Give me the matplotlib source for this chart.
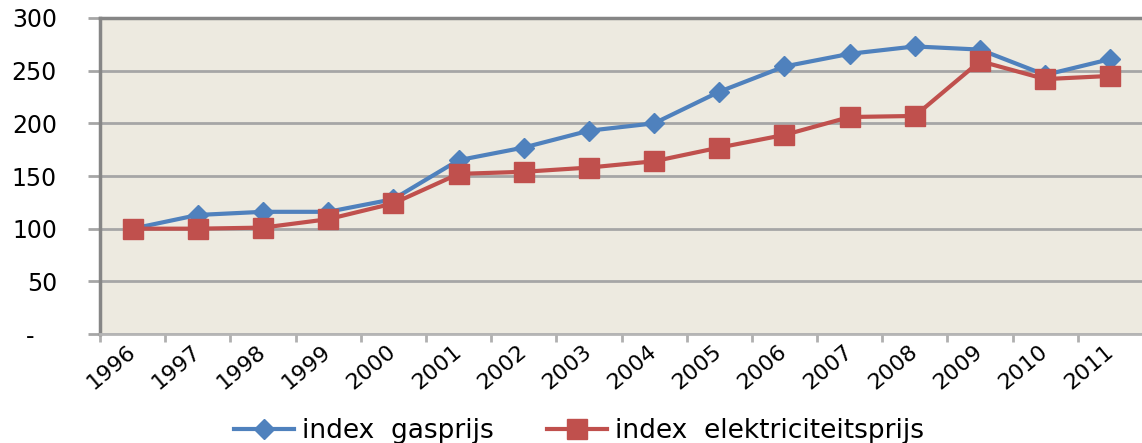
import matplotlib
matplotlib.use("Agg")
import matplotlib.pyplot as plt
import numpy as np

# data (index, 1996 = 100)
years = ['1996', '1997', '1998', '1999', '2000', '2001', '2002', '2003',
         '2004', '2005', '2006', '2007', '2008', '2009', '2010', '2011']
gas = [100, 113, 116, 116, 128, 165, 177, 193, 200, 230, 254, 266, 273, 270, 246, 261]
elec = [100, 100, 101, 109, 124, 152, 154, 158, 164, 177, 189, 206, 207, 259, 242, 245]
yticks = [0, 50, 100, 150, 200, 250, 300]
ytick_labels = ['-   ', '50', '100', '150', '200', '250', '300']

blue = '#4F81BD'
red = '#C0504D'
grid_c = '#A6A6A6'
spine_c = '#868686'

fig = plt.figure(figsize=(11.42, 4.43), dpi=100)
ax = fig.add_axes([100 / 1142, 1 - 334 / 443, 1043 / 1142, 316 / 443])
ax.set_facecolor('#EDEAE0')

x = np.arange(len(years))
ax.plot(x, gas, color=blue, lw=3, marker='D', ms=10, mfc=blue, mec=blue,
        label='index  gasprijs', zorder=3)
ax.plot(x, elec, color=red, lw=3, marker='s', ms=14, mfc=red, mec=red,
        label='index  elektriciteitsprijs', zorder=3)

ax.set_xlim(-0.5, len(years) - 0.5)
ax.set_ylim(0, 300)

ax.set_yticks(yticks)
ax.set_yticklabels(ytick_labels, fontsize=17)
ax.yaxis.grid(True, color=grid_c, lw=2, zorder=1)
ax.yaxis.set_tick_params(length=9, width=2, color=grid_c, pad=22)

ax.set_xticks(x)
ax.set_xticklabels(years, fontsize=16, rotation=40, ha='right', va='center',
                   rotation_mode='anchor')
ax.xaxis.set_tick_params(which='major', length=0, pad=11)
ax.set_xticks(np.arange(len(years) + 1) - 0.5, minor=True)
ax.xaxis.set_tick_params(which='minor', length=6, width=2, color='#B0B0B0')

for s in ['top', 'left']:
    ax.spines[s].set_color(spine_c)
    ax.spines[s].set_linewidth(2.5)
ax.spines['bottom'].set_color('#B5B5B5')
ax.spines['bottom'].set_linewidth(2)
ax.spines['right'].set_visible(False)

fig.legend(loc='center', bbox_to_anchor=(0.507, 0.027), ncol=2, frameon=False,
           fontsize=19, handlelength=2.3, columnspacing=2.0, handletextpad=0.3)

plt.savefig('out.png', dpi=100)
